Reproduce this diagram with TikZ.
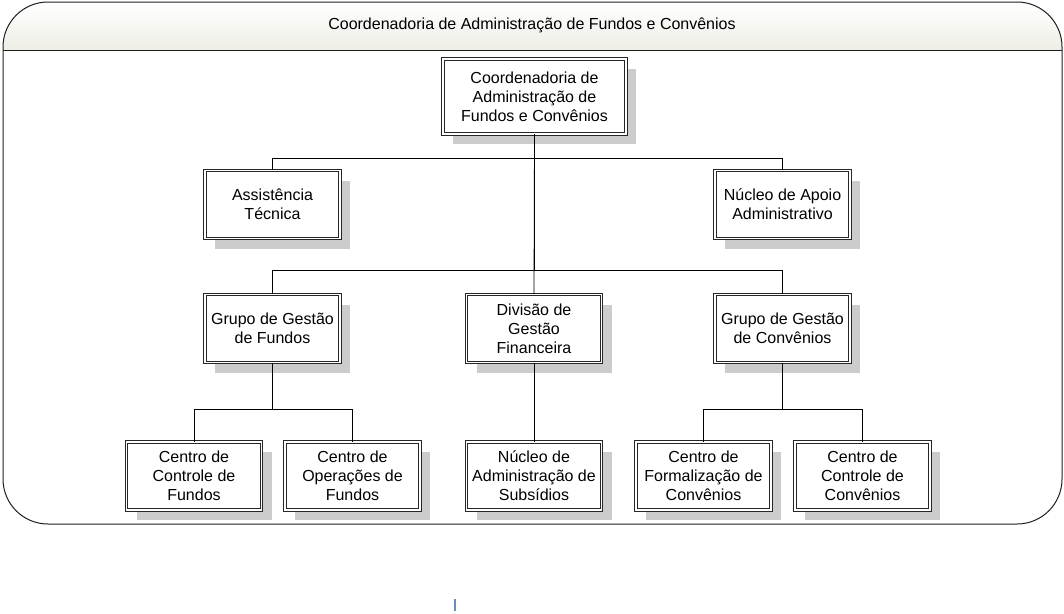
\documentclass[tikz,border=0pt]{standalone}
\usepackage{fontspec}
\setmainfont{Liberation Sans}
\usepackage{tikz}
\usetikzlibrary{shadows, positioning, calc}
\definecolor{framegray}{RGB}{30,30,30}
\definecolor{headtop}{RGB}{255,255,255}
\definecolor{headbot}{RGB}{238,238,230}
\definecolor{shadowgray}{RGB}{204,204,204}
\definecolor{cursorblue}{RGB}{110,140,185}

\begin{document}
\begin{tikzpicture}[
  x=1pt, y=-1pt,
  orgbox/.style = {rectangle, draw=black!85, line width=0.8pt, double=white,
                   double distance=1.6pt, fill=white, inner sep=0pt,
                   minimum width=135pt, minimum height=68pt, align=center,
                   font=\fontsize{16}{19}\selectfont, text=black,
                   drop shadow={shadow xshift=10pt, shadow yshift=-10pt,
                                fill=shadowgray, opacity=1}},
  topbox/.style = {orgbox, minimum width=183pt, minimum height=75pt},
  link/.style   = {draw=black, line width=0.8pt},
]
\useasboundingbox (0,0) rectangle (1064,613);

%% --- Frame and header ---
\begin{scope}
  \clip[rounded corners=45pt] (3,2) rectangle (1062,524);
  \shade[top color=headtop, bottom color=headbot] (3,2) rectangle (1062,50);
\end{scope}
\draw[framegray, line width=1pt, rounded corners=45pt] (3,2) rectangle (1062,524);
\draw[framegray, line width=1pt] (3,50) -- (1062,50);
\node[font=\fontsize{16}{19}\selectfont, text=black] (title) at (532,25)
  {Coordenadoria de Administração de Fundos e Convênios};

%% --- Level 0 ---
\node[topbox] (cafc) at (534.5,96.5) {Coordenadoria de\\Administração de\\Fundos e Convênios};

%% --- Level 1 ---
\node[orgbox] (assist) at (272.5,204.5) {Assistência\\Técnica};
\node[orgbox] (apoio)  at (782.5,204.5) {Núcleo de Apoio\\Administrativo};

%% --- Level 2 ---
\node[orgbox] (ggf) at (272.5,328.5) {Grupo de Gestão\\de Fundos};
\node[orgbox] (dgf) at (534,328.5)   {Divisão de\\Gestão\\Financeira};
\node[orgbox] (ggc) at (782.5,328.5) {Grupo de Gestão\\de Convênios};

%% --- Level 3 ---
\node[orgbox] (ccf)  at (194,476)   {Centro de\\Controle de\\Fundos};
\node[orgbox] (cof)  at (352.5,476) {Centro de\\Operações de\\Fundos};
\node[orgbox] (nas)  at (534,476)   {Núcleo de\\Administração de\\Subsídios};
\node[orgbox] (cfc)  at (703.5,476) {Centro de\\Formalização de\\Convênios};
\node[orgbox] (cccv) at (862.5,476) {Centro de\\Controle de\\Convênios};

%% --- Connectors ---
\draw[link] (cafc.south) -- ++(0,24) -| (assist.north);
\draw[link] (cafc.south) -- ++(0,24) -| (apoio.north);
\draw[link] (cafc.south) -- ++(0,136) -| (ggf.north);
\draw[link] (cafc.south) -- ++(0,136) -| (ggc.north);
\draw[link] (cafc.south) -- (dgf.north);

\draw[link] (ggf.south) -- ++(0,46) -| (ccf.north);
\draw[link] (ggf.south) -- ++(0,46) -| (cof.north);
\draw[link] (dgf.south) -- (nas.north);
\draw[link] (ggc.south) -- ++(0,46) -| (cfc.north);
\draw[link] (ggc.south) -- ++(0,46) -| (cccv.north);

%% --- Stray mark ---
\draw[cursorblue, line width=1.2pt] (455,599) -- (455,611);

\end{tikzpicture}
\end{document}
